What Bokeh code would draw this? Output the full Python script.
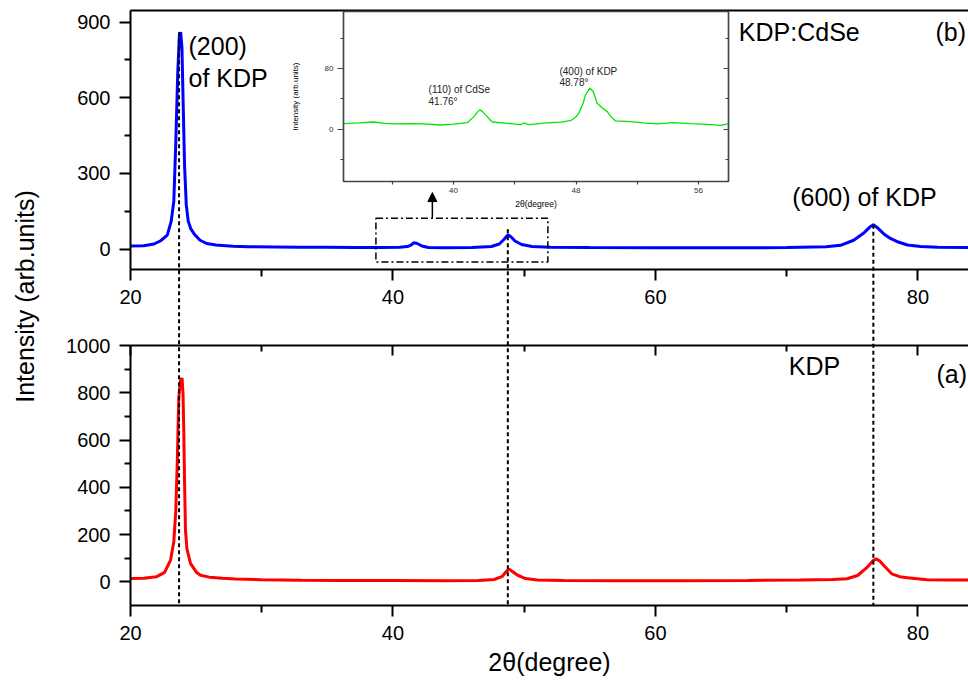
import math
from bokeh.plotting import figure
from bokeh.models import (Range1d, LinearAxis, FixedTicker, Label, Arrow,
                          NormalHead, BoxAnnotation)
from bokeh.layouts import row, column
from bokeh.embed import file_html
from bokeh.resources import INLINE

# ---------------- data ----------------
# (b) KDP:CdSe pattern (blue)
two_theta_b = [20, 21, 21.8, 22.3, 22.8, 23.1, 23.3, 23.45, 23.6, 23.72,
               23.82, 23.92, 24.02, 24.12, 24.25, 24.4, 24.6, 24.85, 25.3, 25.8,
               26.5, 27.8, 29, 31, 33, 35, 37, 39, 40.5, 41.1,
               41.4, 41.6, 41.85, 42.2, 42.7, 44, 46, 47.5, 48.1, 48.45,
               48.76, 49.0, 49.3, 49.8, 50.6, 52, 55, 60, 65, 70,
               73, 74.1, 75.1, 75.9, 76.35, 76.6, 76.9, 77.4, 77.9, 78.5,
               79.2, 80.2, 81.5, 83.85]
intensity_b = [12, 13, 20, 33, 55, 110, 190, 420, 700, 845,
               860, 800, 560, 330, 175, 110, 80, 60, 35, 22,
               16, 11, 9, 8, 7, 7, 6, 6, 7, 10,
               17, 25, 22, 12, 6, 5, 6, 10, 20, 38,
               57, 48, 32, 18, 10, 7, 6, 5, 5, 6,
               9, 15, 35, 65, 88, 97, 85, 60, 42, 28,
               16, 10, 7, 6]

# (a) KDP pattern (red)
two_theta_a = [20, 21, 22, 22.6, 23.05, 23.3, 23.45, 23.56, 23.68, 23.8,
               23.93, 24.0, 24.06, 24.12, 24.19, 24.3, 24.57, 25.0, 25.33, 26,
               27, 28, 30, 33, 36, 40, 44, 46.5, 47.7, 48.3,
               48.65, 48.85, 49.1, 49.5, 50.1, 51, 53, 57, 62, 67,
               71, 73.5, 74.6, 75.4, 76.1, 76.55, 76.8, 77.05, 77.4, 78.0,
               78.6, 79.2, 80.7, 82.5, 83.85]
intensity_a = [14, 15, 22, 40, 92, 170, 300, 500, 780, 850,
               862, 800, 640, 420, 218, 140, 78, 42, 28, 20,
               15, 12, 9, 7, 6, 6, 5, 6, 10, 22,
               45, 54, 44, 28, 14, 8, 6, 5, 5, 6,
               8, 10, 13, 27, 60, 88, 98, 90, 69, 34,
               22, 17, 9, 8, 8]

# inset (zoomed KDP:CdSe, green)
two_theta_inset = [32.8, 33.8, 34.8, 35.5, 36.1, 37.1, 38.06, 39.15, 40.0, 40.9,
                   41.33, 41.55, 41.72, 41.9, 42.09, 42.53, 43.5, 44.38, 44.6, 44.9,
                   46.1, 47.0, 47.64, 48.0, 48.18, 48.45, 48.62, 48.9, 49.12, 49.38,
                   49.7, 50.04, 50.3, 50.58, 51.56, 52.4, 53.3, 54.39, 55.5, 56.57,
                   57.44, 57.94]
intensity_inset = [7, 8, 9.3, 7.5, 6.7, 7, 6.7, 5.3, 6.5, 8.4,
                   16.4, 22, 25.3, 23, 18.7, 9.3, 7.5, 5.8, 8, 5.8,
                   8, 9, 11, 16, 21, 33, 45, 54, 50, 34,
                   28, 23, 16, 10.7, 9.8, 8, 6.7, 8.4, 7, 6.2,
                   4.9, 6.7]

# reflection positions marked by dotted lines, and their tops in panel (b)
peak_positions = [23.7, 48.75, 76.6]
peak_tops_b = [860, 80, 97]

x_major = [20, 40, 60, 80]
x_minor = [30, 50, 70]
yb_major = [0, 300, 600, 900]
yb_minor = [150, 450, 750]
ya_major = [0, 200, 400, 600, 800, 1000]
ya_minor = [100, 300, 500, 700, 900]
inset_x_major = [40, 48, 56]
inset_x_minor = [36, 44, 52]
inset_y_major = [0, 80]
inset_y_minor = [-40, 40, 120]

FONT = "Liberation Sans"
X0, X1 = 20, 83.85          # visible 2-theta window
YB0, YB1 = -81, 946         # panel (b) intensity window
YA0, YA1 = -100, 1000       # panel (a) intensity window


def style_axis(ax, major_out, minor_out, major_in=0, minor_in=0,
               font_size="20px", standoff=9, width=2, color="black",
               label_color="black"):
    ax.axis_line_width = width
    ax.axis_line_color = color
    ax.major_tick_line_width = width
    ax.minor_tick_line_width = width
    ax.major_tick_line_color = color
    ax.minor_tick_line_color = color
    ax.major_tick_out = major_out
    ax.minor_tick_out = minor_out
    ax.major_tick_in = major_in
    ax.minor_tick_in = minor_in
    ax.major_label_text_font = FONT
    ax.major_label_text_font_size = font_size
    ax.major_label_text_color = label_color
    ax.major_label_standoff = standoff
    ax.axis_label_text_font = FONT
    ax.axis_label_text_font_style = "normal"
    ax.axis_label_text_color = "black"


# ---------------- y title column ----------------
title_fig = figure(width=58, height=689, x_range=Range1d(0, 58), y_range=Range1d(0, 689),
                   min_border=0, x_axis_location=None, y_axis_location=None,
                   outline_line_color=None, toolbar_location=None, output_backend="svg")
title_fig.grid.visible = False
title_fig.add_layout(Label(x=24, y=393, text="Intensity (arb.units)", angle=math.pi / 2,
                           text_align="center", text_baseline="middle",
                           text_font=FONT, text_font_size="25px", text_color="black"))

# ---------------- panel (b) ----------------
top = figure(width=910, height=318, x_range=Range1d(X0, X1), y_range=Range1d(YB0, YB1),
             min_border_left=72, min_border_right=0, min_border_top=10, min_border_bottom=49,
             outline_line_color=None, toolbar_location=None, output_backend="svg")
top.grid.visible = False
top.xaxis.ticker = FixedTicker(ticks=x_major, minor_ticks=x_minor)
top.yaxis.ticker = FixedTicker(ticks=yb_major, minor_ticks=yb_minor)
style_axis(top.xaxis[0], 11, 7)
style_axis(top.yaxis[0], 11, 6)
top_line = LinearAxis(ticker=FixedTicker(ticks=[]))
style_axis(top_line, 0, 0, font_size="0px", standoff=0, label_color=None)
top.add_layout(top_line, "above")

top.line(two_theta_b, intensity_b, line_color="#0000ff", line_width=3)

top.add_layout(BoxAnnotation(left=38.7, right=51.8, bottom=-51, top=122,
                             fill_alpha=0, line_color="black", line_alpha=1,
                             line_width=1.5, line_dash="7 3 2 3"))
top.add_layout(Arrow(x_start=43.0, y_start=122, x_end=43.0, y_end=224,
                     line_color="black", line_width=1.5,
                     end=NormalHead(size=9, fill_color="black", line_color="black")))

for txt, xx, yy in [("(200)", 24.42, 807), ("of KDP", 24.42, 680),
                    ("KDP:CdSe", 66.35, 860), ("(b)", 81.33, 860),
                    ("(600) of KDP", 70.42, 206)]:
    top.add_layout(Label(x=xx, y=yy, text=txt, text_font=FONT, text_font_size="25px",
                         text_baseline="middle", text_align="left", text_color="black"))

# ---------------- panel (a) ----------------
bot = figure(width=910, height=371, x_range=Range1d(X0, X1), y_range=Range1d(YA0, YA1),
             min_border_left=72, min_border_right=0, min_border_top=27, min_border_bottom=84,
             outline_line_color=None, toolbar_location=None, output_backend="svg")
bot.grid.visible = False
bot.xaxis.ticker = FixedTicker(ticks=x_major, minor_ticks=x_minor)
bot.yaxis.ticker = FixedTicker(ticks=ya_major, minor_ticks=ya_minor)
style_axis(bot.xaxis[0], 11, 7)
style_axis(bot.yaxis[0], 11, 6)
bot.xaxis.axis_label = "2θ(degree)"
bot.xaxis.axis_label_text_font_size = "25px"
bot.xaxis.axis_label_standoff = 5
bot_top = LinearAxis(ticker=FixedTicker(ticks=x_major, minor_ticks=x_minor))
style_axis(bot_top, 0, 0, major_in=10, minor_in=6, font_size="0px", standoff=0,
           label_color=None)
bot.add_layout(bot_top, "above")

bot.line(two_theta_a, intensity_a, line_color="#ff0000", line_width=3)

for txt, xx, yy in [("KDP", 70.16, 915), ("(a)", 81.41, 880)]:
    bot.add_layout(Label(x=xx, y=yy, text=txt, text_font=FONT, text_font_size="25px",
                         text_baseline="middle", text_align="left", text_color="black"))

# ---------------- dotted guide lines spanning both panels ----------------
# transparent overlay whose frame covers panel (b) top (y=10) to panel (a) bottom (y=605),
# using panel (b)'s intensity scale (0.2525 px per unit) extended downwards
px_per_unit_b = 259.3 / (YB1 - YB0)
overlay_bottom = YB1 - 595 / px_per_unit_b
guides = figure(width=838, height=595, x_range=Range1d(X0, X1),
                y_range=Range1d(overlay_bottom, YB1),
                min_border=0, x_axis_location=None, y_axis_location=None,
                outline_line_color=None, border_fill_color=None, background_fill_color=None,
                toolbar_location=None, output_backend="svg",
                styles={"position": "absolute", "left": "130px", "top": "10px"})
guides.grid.visible = False
guides.segment(x0=peak_positions, y0=peak_tops_b, x1=peak_positions,
               y1=[overlay_bottom] * len(peak_positions),
               line_color="black", line_width=2, line_dash="4 3")

# ---------------- inset ----------------
inset = figure(width=450, height=204, x_range=Range1d(32.815, 57.96),
               y_range=Range1d(-69.4, 155.4),
               min_border_left=60, min_border_right=5, min_border_top=2, min_border_bottom=32,
               outline_line_color="#444444", outline_line_width=1.5,
               border_fill_color=None, background_fill_color="white",
               toolbar_location=None, output_backend="svg",
               styles={"position": "absolute", "left": "283px", "top": "9px"})
inset.grid.visible = False
inset.xaxis.ticker = FixedTicker(ticks=inset_x_major, minor_ticks=inset_x_minor)
inset.yaxis.ticker = FixedTicker(ticks=inset_y_major, minor_ticks=inset_y_minor)
style_axis(inset.xaxis[0], 3, 3, font_size="8px", standoff=3, width=1.2,
           color="#444444", label_color="#333333")
style_axis(inset.yaxis[0], 6, 3, font_size="8px", standoff=4, width=1.2,
           color="#444444", label_color="#333333")
inset.xaxis.axis_label = "2θ(degree)"
inset.xaxis.axis_label_text_font_size = "8.5px"
inset.xaxis.axis_label_standoff = 3
inset.yaxis.axis_label = "Intensity (arb.units)"
inset.yaxis.axis_label_text_font_size = "8px"
inset.yaxis.axis_label_standoff = 22
inset_right = LinearAxis(ticker=FixedTicker(ticks=inset_y_major, minor_ticks=inset_y_minor))
style_axis(inset_right, 0, 0, major_in=5, minor_in=3, font_size="0px", standoff=0,
           width=1.2, color="#444444", label_color=None)
inset.add_layout(inset_right, "right")

inset.line(two_theta_inset, intensity_inset, line_color="#00e600", line_width=1.3)
for txt, xx, yy in [("(110) of CdSe", 38.37, 51.8), ("41.76°", 38.37, 36.8),
                    ("(400) of KDP", 46.92, 76.5), ("48.78°", 46.92, 61)]:
    inset.add_layout(Label(x=xx, y=yy, text=txt, text_font=FONT, text_font_size="10px",
                           text_baseline="middle", text_align="left", text_color="#222222"))

layout = row(title_fig, column(top, bot))

with open("out.html", "w") as f:
    f.write(file_html([layout, guides, inset], INLINE))
